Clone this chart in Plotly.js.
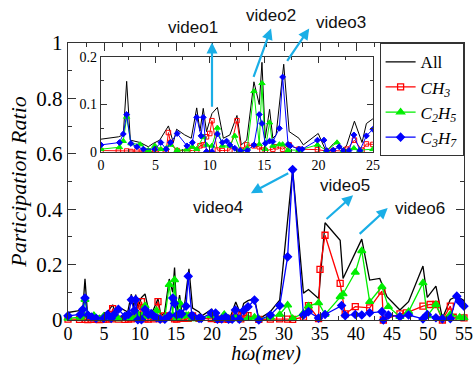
<!DOCTYPE html>
<html><head><meta charset="utf-8">
<script src="https://cdn.plot.ly/plotly-3.0.1.min.js"></script>
<style>html,body{margin:0;padding:0;background:#fff;}#chart{width:476px;height:365px;}</style>
</head><body><div id="chart"></div>
<script>
// ---- data ----
const xAll = [0,1.6,2.05,2.36,2.7,3.6,4.35,4.8,5.4,6.2,6.65,6.95,7.7,8.3,8.8,9.1,9.4,9.7,10.2,10.7,11.25,11.85,12.5,12.9,13.4,14.06,14.55,14.8,15.1,15.5,15.8,16.1,16.8,17.3,18.2,18.6,19.97,20.7,21.4,21.7,22.3,22.6,23.3,24.0,24.4,25.0,25.9,26.5,28.1,29.4,31.2,32.7,33.4,34.8,35.7,37.8,38.2,40.8,41.9,43.3,44.3,46.1,47.3,49.3,49.9,51.1,52.0,53.1,54.0,55];
const yAll = [0.027,0.032,0.036,0.149,0.025,0.02,0.011,0.018,0.025,0.055,0.02,0.048,0.036,0.029,0.093,0.044,0.092,0.043,0.081,0.094,0.029,0.036,0.077,0.015,0.025,0.148,0.10,0.189,0.029,0.09,0.029,0.036,0.185,0.043,0.029,0.015,0.039,0.001,0.018,0.022,0.004,0.015,0.065,0.02,0.06,0.07,0.078,0.003,0.03,0.072,0.543,0.097,0.11,0.078,0.351,0.288,0.15,0.292,0.144,0.15,0.084,0.036,0.066,0.195,0.082,0.122,0.006,0.074,0.086,0.07];

const xCH3 = [0,1.6,2.36,2.75,3.3,3.9,4.35,4.95,5.5,6.0,6.2,6.4,7.0,7.9,8.4,8.8,9.1,9.4,9.7,10.0,10.2,10.7,11.15,11.85,12.5,12.9,13.4,14.06,14.55,14.8,15.1,15.8,16.1,16.7,17.3,18.2,19.9,20.75,21.35,22.3,22.6,23.3,24.0,24.4,25.0,26.5,28.1,29.4,30.5,31.2,32.7,33.4,34.8,35.0,35.7,37.8,38.5,39.9,41.9,43.6,43.8,46.1,47.0,49.3,50.3,51.1,52.0,53.1,53.5,55];
const yCH3 = [0.003,0.002,0.002,0.001,0.002,0.002,0.001,0.002,0.003,0.004,0.041,0.02,0.003,0.002,0.003,0.004,0.013,0.015,0.032,0.039,0.066,0.004,0.003,0.004,0.066,0.004,0.015,0.013,0.011,0.004,0.003,0.006,0.011,0.006,0.015,0.006,0.005,0.002,0.003,0.002,0.006,0.025,0.004,0.017,0.016,0.002,0.003,0.004,0.003,0.002,0.01,0.052,0.005,0.183,0.306,0.132,0.022,0.048,0.044,0.104,0.0,0.022,0.026,0.05,0.056,0.056,0.0,0.05,0.01,0.008];

const xC2H5 = [0,1.7,2.05,2.36,2.75,3.6,4.35,4.95,5.5,6.0,6.4,7.0,7.9,8.4,8.8,9.4,9.7,10.2,10.7,11.15,11.85,12.3,12.8,13.45,14.06,14.55,14.8,15.1,15.5,15.8,16.4,16.7,17.2,18.2,19.9,20.75,21.7,22.3,23.25,23.8,25.0,25.9,26.5,28.1,29.4,30.5,31.2,32.7,33.4,34.8,35.7,37.8,38.2,39.9,40.8,41.9,43.6,44.5,46.1,47.3,49.3,49.9,51.1,52.0,53.1,54.4,55];
const yC2H5 = [0.006,0.01,0.023,0.074,0.018,0.016,0.004,0.013,0.006,0.008,0.015,0.004,0.005,0.011,0.006,0.032,0.015,0.013,0.051,0.013,0.013,0.034,0.004,0.008,0.128,0.016,0.145,0.006,0.062,0.013,0.016,0.016,0.004,0.004,0.015,0.003,0.02,0.004,0.008,0.004,0.006,0.01,0.004,0.01,0.02,0.054,0.005,0.025,0.05,0.062,0.02,0.084,0.094,0.172,0.25,0.066,0.12,0.048,0.012,0.03,0.134,0.015,0.056,0.005,0.02,0.01,0.008];

const xC3H7 = [0,1.7,2.05,2.36,2.75,3.3,3.9,4.95,5.5,6.0,6.4,7.0,7.9,8.4,8.8,9.2,9.4,9.7,10.2,10.7,11.15,11.55,11.85,12.3,12.8,13.45,14.06,14.55,14.8,15.1,15.5,15.8,16.4,16.7,17.2,17.4,18.2,18.5,19.9,20.5,20.75,21.35,21.9,22.3,22.8,23.25,23.8,24.4,25.0,25.9,26.5,28.1,29.4,30.5,31.2,32.7,33.4,34.8,35.7,38.0,38.5,39.9,40.8,41.9,43.6,43.8,44.5,46.1,47.3,49.3,49.9,51.1,52.0,53.1,54.0,54.4,55];
const yC3H7 = [0.015,0.02,0.038,0.079,0.018,0.011,0.006,0.006,0.02,0.006,0.02,0.039,0.013,0.02,0.073,0.034,0.073,0.001,0.001,0.038,0.02,0.023,0.015,0.008,0.003,0.003,0.015,0.079,0.06,0.018,0.023,0.022,0.05,0.158,0.016,0.013,0.006,0.006,0.025,0.025,0.003,0.004,0.011,0.003,0.003,0.036,0.003,0.034,0.048,0.072,0.0,0.018,0.052,0.228,0.543,0.018,0.03,0.007,0.02,0.052,0.016,0.02,0.018,0.026,0.03,0.0,0.018,0.012,0.018,0.004,0.02,0.008,0.004,0.005,0.086,0.066,0.05];

const seriesNames = ['All', '<i>CH<sub>3</sub></i>', '<i>C<sub>2</sub>H<sub>5</sub></i>', '<i>C<sub>3</sub>H<sub>7</sub></i>'];
const mainXTicks = [0,5,10,15,20,25,30,35,40,45,50,55];
const mainYTicks = [0,0.2,0.4,0.6,0.8,1];
const mainYLabels = ['0','0.2','0.4','0.6','0.8','1'];
const insetXTicks = [0,5,10,15,20,25];
const insetYTicks = [0,0.1,0.2];
const videoLabels = ['video1','video2','video3','video4','video5','video6'];

// ---- styling ----
const serif = 'Liberation Serif, Times New Roman, serif';
const axisCol = '#333';
const styles = [
  {color:'#000000', mode:'lines', symbol:null},
  {color:'#ff0000', mode:'lines+markers', symbol:'square-open', size:6},
  {color:'#00ee00', mode:'lines+markers', symbol:'triangle-up', size:7},
  {color:'#0000ff', mode:'lines+markers', symbol:'diamond', size:6}
];
const xs = [xAll, xCH3, xC2H5, xC3H7];
const ys = [yAll, yCH3, yC2H5, yC3H7];

const traces = [];
for (let i = 0; i < 4; i++) {
  const s = styles[i];
  const t = {x: xs[i], y: ys[i], type:'scatter', mode:s.mode, name:seriesNames[i],
    line:{color:s.color, width:1.3}, cliponaxis:false, xaxis:'x', yaxis:'y'};
  if (s.symbol) t.marker = {symbol:s.symbol, size:s.size, color:s.color, line:{color:s.color, width:1.3}};
  traces.push(t);
}
for (let i = 0; i < 4; i++) {
  const s = styles[i];
  const t = {x: xs[i], y: ys[i], type:'scatter', mode:s.mode, showlegend:false,
    line:{color:s.color, width:1.0}, xaxis:'x2', yaxis:'y2', hoverinfo:'skip'};
  if (s.symbol) t.marker = {symbol:s.symbol, size:s.size-1.5, color:s.color, line:{color:s.color, width:1}};
  traces.push(t);
}

function ax(extra) {
  return Object.assign({showgrid:false, zeroline:false, showline:true, linecolor:axisCol, linewidth:1.2,
    mirror:'ticks', ticks:'inside', tickcolor:axisCol, tickwidth:1}, extra);
}

// arrow geometry (data coords of the main axes): tail -> head
const arrows = [
  {tx:20.0, ty:0.764, hx:20.0, hy:1.002},
  {tx:25.7, ty:0.872, hx:28.2, hy:1.052},
  {tx:30.3, ty:0.930, hx:33.5, hy:1.052},
  {tx:30.8, ty:0.533, hx:25.4, hy:0.458},
  {tx:35.7, ty:0.360, hx:39.6, hy:0.450},
  {tx:40.3, ty:0.306, hx:44.4, hy:0.404}
];
// label centres (x in mev units, y in main-axis units)
const labelPos = [
  {x:17.4, y:1.056}, {x:28.2, y:1.099}, {x:37.9, y:1.074},
  {x:20.8, y:0.407}, {x:38.5, y:0.486}, {x:48.9, y:0.404}
];
const arrowCol = '#1aaee6';
const annotations = [];
arrows.forEach(a => annotations.push({xref:'x', yref:'y', axref:'x', ayref:'y', x:a.hx, y:a.hy, ax:a.tx, ay:a.ty,
  text:'', showarrow:true, arrowhead:2, arrowsize:1, arrowwidth:2.2, arrowcolor:arrowCol, standoff:0, startstandoff:0}));
labelPos.forEach((p, i) => annotations.push({xref:'paper', yref:'paper', x:p.x/55, y:p.y, xanchor:'center', yanchor:'middle',
  text:videoLabels[i], showarrow:false,
  font:{family:'Liberation Sans, Arial, sans-serif', size:17, color:'#111'}}));

const layout = {
  width:476, height:365,
  margin:{l:68, r:12, t:43, b:45},
  paper_bgcolor:'#fff', plot_bgcolor:'#fff',
  showlegend:true,
  xaxis: ax({domain:[0,1], range:[0,55], tickvals:mainXTicks, ticklen:8, ticklabelstandoff:-3,
    minor:{tick0:0, dtick:2.5, ticks:'inside', ticklen:4, tickcolor:axisCol},
    tickfont:{family:serif, size:18, color:'#000'},
    title:{text:'<i>hω(mev)</i>', font:{family:serif, size:20, color:'#000'}, standoff:5}}),
  yaxis: ax({domain:[0,1], range:[0,1], tickvals:mainYTicks, ticktext:mainYLabels, ticklen:8,
    minor:{tick0:0, dtick:0.1, ticks:'inside', ticklen:4, tickcolor:axisCol},
    tickfont:{family:serif, size:21, color:'#000'},
    title:{text:'<i>Participation Ratio</i>', font:{family:serif, size:22, color:'#000'}, standoff:3}}),
  xaxis2: ax({domain:[0.0833,0.770], anchor:'y2', range:[0,25], tickvals:insetXTicks, ticklen:6,
    minor:{tick0:0, dtick:2.5, ticks:'inside', ticklen:3, tickcolor:axisCol},
    tickfont:{family:serif, size:14, color:'#000'}}),
  yaxis2: ax({domain:[0.6065,0.949], anchor:'x2', range:[0,0.2], tickvals:insetYTicks, ticklen:6,
    minor:{tick0:0, dtick:0.05, ticks:'inside', ticklen:3, tickcolor:axisCol},
    tickfont:{family:serif, size:14, color:'#000'}}),
  legend:{x:0.999, y:0.999, xanchor:'right', yanchor:'top', bgcolor:'#fff', bordercolor:axisCol, borderwidth:1,
    font:{family:serif, size:17, color:'#000'}, tracegroupgap:0, itemwidth:30},
  annotations: annotations
};

Plotly.newPlot('chart', traces, layout, {displayModeBar:false, staticPlot:true});
</script>
</body></html>
